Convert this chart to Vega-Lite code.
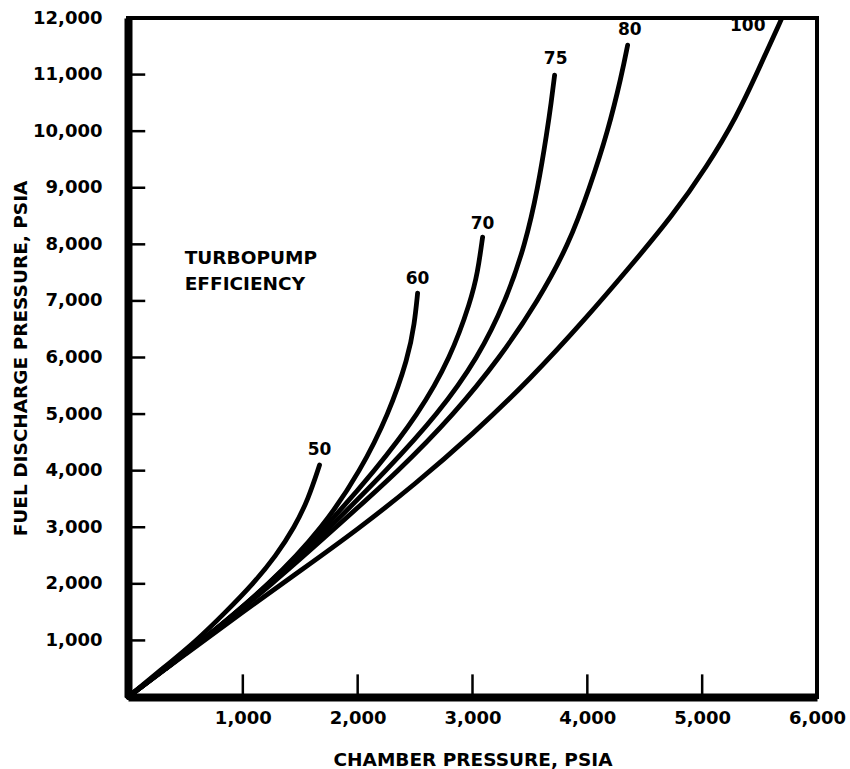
{
  "$schema": "https://vega.github.io/schema/vega-lite/v6.json",
  "width": 689,
  "height": 679,
  "autosize": {"type": "none"},
  "padding": {"left": 128, "top": 18, "right": 33, "bottom": 72},
  "background": "white",
  "config": {
    "view": {"stroke": "black", "strokeWidth": 4},
    "font": "DejaVu Sans",
    "axis": {
      "grid": false,
      "ticks": false,
      "domainColor": "black",
      "domainWidth": 8,
      "labelFont": "DejaVu Sans",
      "labelFontWeight": "bold",
      "labelFontSize": 18,
      "labelColor": "black",
      "titleFont": "DejaVu Sans",
      "titleFontWeight": "bold",
      "titleFontSize": 18.5,
      "titleColor": "black"
    }
  },
  "datasets": {
    "curves": [
      {"curve": "50", "x": 0, "y": 0},
      {"curve": "50", "x": 300, "y": 500},
      {"curve": "50", "x": 600, "y": 1000},
      {"curve": "50", "x": 850, "y": 1500},
      {"curve": "50", "x": 1090, "y": 2000},
      {"curve": "50", "x": 1290, "y": 2500},
      {"curve": "50", "x": 1450, "y": 3000},
      {"curve": "50", "x": 1570, "y": 3500},
      {"curve": "50", "x": 1668, "y": 4099},
      {"curve": "60", "x": 0, "y": 0},
      {"curve": "60", "x": 325, "y": 500},
      {"curve": "60", "x": 650, "y": 1000},
      {"curve": "60", "x": 1240, "y": 2000},
      {"curve": "60", "x": 1700, "y": 3000},
      {"curve": "60", "x": 2025, "y": 4000},
      {"curve": "60", "x": 2270, "y": 5000},
      {"curve": "60", "x": 2440, "y": 6000},
      {"curve": "60", "x": 2495, "y": 6600},
      {"curve": "60", "x": 2522, "y": 7139},
      {"curve": "70", "x": 0, "y": 0},
      {"curve": "70", "x": 325, "y": 500},
      {"curve": "70", "x": 650, "y": 1000},
      {"curve": "70", "x": 1240, "y": 2000},
      {"curve": "70", "x": 1720, "y": 3000},
      {"curve": "70", "x": 2150, "y": 4000},
      {"curve": "70", "x": 2530, "y": 5000},
      {"curve": "70", "x": 2810, "y": 6000},
      {"curve": "70", "x": 2985, "y": 7000},
      {"curve": "70", "x": 3045, "y": 7500},
      {"curve": "70", "x": 3088, "y": 8128},
      {"curve": "75", "x": 0, "y": 0},
      {"curve": "75", "x": 325, "y": 500},
      {"curve": "75", "x": 650, "y": 1000},
      {"curve": "75", "x": 1250, "y": 2000},
      {"curve": "75", "x": 1760, "y": 3000},
      {"curve": "75", "x": 2250, "y": 4000},
      {"curve": "75", "x": 2700, "y": 5000},
      {"curve": "75", "x": 3050, "y": 6000},
      {"curve": "75", "x": 3290, "y": 7000},
      {"curve": "75", "x": 3460, "y": 8000},
      {"curve": "75", "x": 3570, "y": 9000},
      {"curve": "75", "x": 3650, "y": 10000},
      {"curve": "75", "x": 3685, "y": 10500},
      {"curve": "75", "x": 3715, "y": 10991},
      {"curve": "80", "x": 0, "y": 0},
      {"curve": "80", "x": 325, "y": 500},
      {"curve": "80", "x": 650, "y": 1000},
      {"curve": "80", "x": 1260, "y": 2000},
      {"curve": "80", "x": 1810, "y": 3000},
      {"curve": "80", "x": 2360, "y": 4000},
      {"curve": "80", "x": 2840, "y": 5000},
      {"curve": "80", "x": 3240, "y": 6000},
      {"curve": "80", "x": 3570, "y": 7000},
      {"curve": "80", "x": 3840, "y": 8000},
      {"curve": "80", "x": 4020, "y": 9000},
      {"curve": "80", "x": 4180, "y": 10000},
      {"curve": "80", "x": 4300, "y": 11000},
      {"curve": "80", "x": 4351, "y": 11521},
      {"curve": "100", "x": 0, "y": 0},
      {"curve": "100", "x": 500, "y": 755},
      {"curve": "100", "x": 1000, "y": 1505},
      {"curve": "100", "x": 1500, "y": 2230},
      {"curve": "100", "x": 2000, "y": 2960},
      {"curve": "100", "x": 2500, "y": 3760},
      {"curve": "100", "x": 3000, "y": 4640},
      {"curve": "100", "x": 3500, "y": 5610},
      {"curve": "100", "x": 4000, "y": 6720},
      {"curve": "100", "x": 4370, "y": 7600},
      {"curve": "100", "x": 4740, "y": 8500},
      {"curve": "100", "x": 5040, "y": 9370},
      {"curve": "100", "x": 5300, "y": 10250},
      {"curve": "100", "x": 5500, "y": 11130},
      {"curve": "100", "x": 5690, "y": 11980}
    ],
    "labels": [
      {"text": "50", "x": 1668, "y": 4365},
      {"text": "60", "x": 2522, "y": 7386},
      {"text": "70", "x": 3088, "y": 8358},
      {"text": "75", "x": 3724, "y": 11273},
      {"text": "80", "x": 4369, "y": 11786},
      {"text": "100", "x": 5397, "y": 11857}
    ],
    "notes": [
      {"text": "TURBOPUMP", "x": 494, "y": 7750},
      {"text": "EFFICIENCY", "x": 494, "y": 7300}
    ],
    "xticks": [{"v": 1000}, {"v": 2000}, {"v": 3000}, {"v": 4000}, {"v": 5000}],
    "yticks": [{"v": 1000}, {"v": 2000}, {"v": 3000}, {"v": 4000}, {"v": 5000}, {"v": 6000}, {"v": 7000}, {"v": 8000}, {"v": 9000}, {"v": 10000}, {"v": 11000}]
  },
  "layer": [
    {
      "data": {"name": "curves"},
      "mark": {"type": "line", "color": "black", "strokeWidth": 4.8, "interpolate": "basis", "strokeCap": "round"},
      "encoding": {
        "x": {
          "field": "x", "type": "quantitative",
          "scale": {"domain": [0, 6000], "nice": false},
          "axis": {
            "title": "CHAMBER PRESSURE, PSIA",
            "values": [1000, 2000, 3000, 4000, 5000, 6000],
            "format": ",d",
            "labelPadding": 12,
            "labelFlush": false,
            "labelOverlap": false,
            "titleY": 62,
            "titleBaseline": "middle"
          }
        },
        "y": {
          "field": "y", "type": "quantitative",
          "scale": {"domain": [0, 12000], "nice": false},
          "axis": {
            "title": "FUEL DISCHARGE PRESSURE, PSIA",
            "values": [1000, 2000, 3000, 4000, 5000, 6000, 7000, 8000, 9000, 10000, 11000, 12000],
            "format": ",d",
            "labelPadding": 26,
            "labelFlush": false,
            "labelOverlap": false,
            "titleX": -108,
            "titleY": 340,
            "titleAngle": -90,
            "titleBaseline": "middle",
            "titleAlign": "center"
          }
        },
        "detail": {"field": "curve", "type": "nominal"}
      }
    },
    {
      "data": {"name": "xticks"},
      "mark": {"type": "rule", "color": "black", "strokeWidth": 2.5},
      "encoding": {
        "x": {"field": "v", "type": "quantitative"},
        "y": {"datum": 0},
        "y2": {"datum": 400}
      }
    },
    {
      "data": {"name": "yticks"},
      "mark": {"type": "rule", "color": "black", "strokeWidth": 2.5},
      "encoding": {
        "y": {"field": "v", "type": "quantitative"},
        "x": {"datum": 0},
        "x2": {"datum": 150}
      }
    },
    {
      "data": {"name": "labels"},
      "mark": {"type": "text", "font": "DejaVu Sans", "fontWeight": "bold", "fontSize": 17, "color": "black", "align": "center", "baseline": "middle"},
      "encoding": {
        "x": {"field": "x", "type": "quantitative"},
        "y": {"field": "y", "type": "quantitative"},
        "text": {"field": "text"}
      }
    },
    {
      "data": {"name": "notes"},
      "mark": {"type": "text", "font": "DejaVu Sans", "fontWeight": "bold", "fontSize": 18.5, "color": "black", "align": "left", "baseline": "middle"},
      "encoding": {
        "x": {"field": "x", "type": "quantitative"},
        "y": {"field": "y", "type": "quantitative"},
        "text": {"field": "text"}
      }
    }
  ]
}
